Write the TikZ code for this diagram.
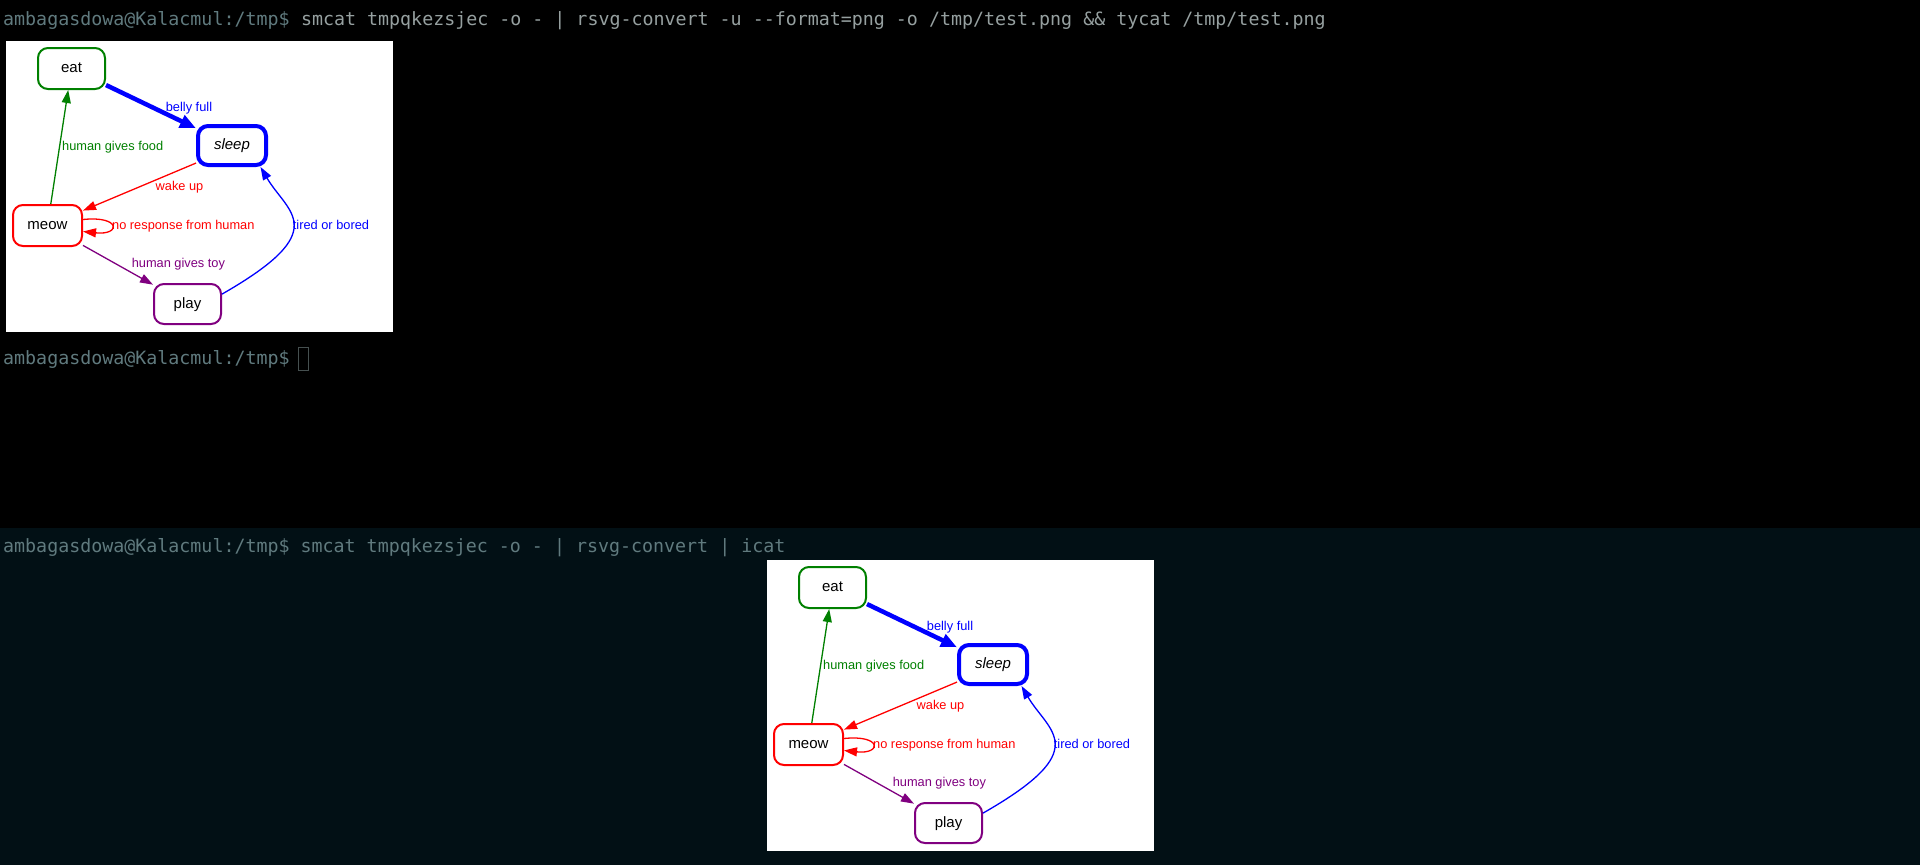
\documentclass[tikz,border=0pt]{standalone}
\usepackage{fontspec}
\setmainfont{Liberation Sans}
\newfontfamily\termfont{DejaVu Sans Mono}
\usetikzlibrary{arrows.meta,calc}
\definecolor{termbg}{RGB}{2,16,21}
\definecolor{promptc}{RGB}{96,122,126}
\definecolor{cmdc}{RGB}{150,160,160}
\definecolor{cursorc}{RGB}{70,80,80}
\definecolor{dgreen}{RGB}{0,128,0}
\definecolor{dpurple}{RGB}{128,0,128}
\tikzset{
  state/.style={draw, rounded corners=10pt, inner sep=0pt, line width=2pt,
    text height=11pt, text depth=3pt, font=\fontsize{15}{18}\selectfont, text=black},
  elabel/.style={inner sep=0pt, font=\fontsize{12.8}{15}\selectfont},
  thin edge/.style={line width=1.3pt, -{Triangle[length=13pt,width=9pt]}},
  thick edge/.style={line width=4.5pt, -{Triangle[length=16pt,width=13pt]}},
  termtext/.style={inner sep=0pt, anchor=base west, font=\termfont\fontsize{18.3}{22}\selectfont},
}
\newcommand\catgraph{%
  \fill[white] (6,41) rectangle (393,332);
  \node[state, draw=dgreen, minimum width=67pt, minimum height=41pt] (eat) at (71.5,68.5) {eat};
  \node[state, draw=blue, line width=4pt, minimum width=68pt, minimum height=39pt] (sleep) at (232,145.5) {\itshape sleep};
  \node[state, draw=red, minimum width=69pt, minimum height=41pt] (meow) at (47.5,225.5) {meow};
  \node[state, draw=dpurple, minimum width=67pt, minimum height=40pt] (play) at (187.5,304) {play};
  \draw[thick edge, blue] (eat) -- (sleep);
  \draw[thin edge, dgreen] (meow) -- (eat);
  \draw[thin edge, red] (sleep.206) -- (meow);
  \draw[thin edge, red] ($(meow.east)+(0,-6)$) .. controls +(38,-4) and +(38,4) .. ($(meow.east)+(0,6)$);
  \draw[thin edge, dpurple] (meow) -- (play);
  \draw[thin edge, blue] (play.16) .. controls +(112,-64) and +(27,46) .. (sleep.-37);
  \node[elabel, anchor=base, text=blue] (lbelly) at (189,111) {belly full};
  \node[elabel, anchor=base west, text=dgreen] (lfood) at (62,150) {human gives food};
  \node[elabel, anchor=base, text=red] (lwake) at (179.5,190) {wake up};
  \node[elabel, anchor=base west, text=red] (lnoresp) at (112,229) {no response from human};
  \node[elabel, anchor=base west, text=blue] (ltired) at (292.7,229) {tired or bored};
  \node[elabel, anchor=base, text=dpurple] (ltoy) at (178.4,267.7) {human gives toy};
}
\begin{document}
\begin{tikzpicture}[x=1pt, y=-1pt]
  \useasboundingbox (0,0) rectangle (1920,865);
  \fill[black] (0,0) rectangle (1920,528);
  \fill[termbg] (0,528) rectangle (1920,865);
  % line 1
  \node[termtext, text=promptc] (p1) at (3,25) {ambagasdowa@Kalacmul:/tmp\$};
  \node[termtext, text=cmdc] (c1) at (p1.base east) {\ smcat tmpqkezsjec -o - | rsvg-convert -u --format=png -o /tmp/test.png \&\& tycat /tmp/test.png};
  \begin{scope}[name prefix=a-]
    \catgraph
  \end{scope}
  % line 2
  \node[termtext, text=promptc] (p2) at (3,364) {ambagasdowa@Kalacmul:/tmp\$};
  \draw[cursorc, line width=1pt] (298,347) rectangle (308,370);
  % line 3
  \node[termtext, text=promptc] (p3) at (3,552) {ambagasdowa@Kalacmul:/tmp\$ smcat tmpqkezsjec -o - | rsvg-convert | icat};
  \begin{scope}[shift={(761,519)}, name prefix=b-]
    \catgraph
  \end{scope}
\end{tikzpicture}
\end{document}
